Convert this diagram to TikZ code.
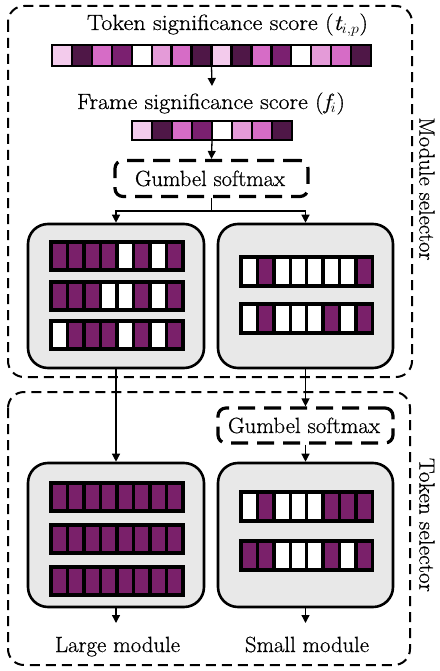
\documentclass[tikz,border=0pt]{standalone}
\usepackage{fontspec}
\usepackage{graphicx}
\usetikzlibrary{arrows.meta}
\newfontfamily\lblfont{Latin Modern Roman}[FakeBold=0.7, ItalicFeatures={FakeBold=0.7}]
\newcommand\fitw[2]{\resizebox{#1}{\height}{#2}}
\definecolor{tL}{HTML}{F3CBEC}
\definecolor{tD}{HTML}{4F1747}
\definecolor{tO}{HTML}{D66CC6}
\definecolor{tP}{HTML}{7B2070}
\definecolor{tM}{HTML}{E49BD8}
\definecolor{pp}{HTML}{7A206A}
\definecolor{panelgray}{HTML}{E8E8E8}
\newcommand\cellrow[6]{% x0,y0,cellw,h,linewidth,colors
  \foreach \c [count=\i from 0] in {#6} {
    \draw[line width=#5, fill=\c] ({#1+\i*#3},#2) rectangle ++(#3,#4);
  }}
\begin{document}
\begin{tikzpicture}[x=1pt,y=-1pt,
  lbl/.style={font=\lblfont\fontsize{22}{26}\selectfont, inner sep=0pt, anchor=base},
  outerbox/.style={draw, line width=2pt, dash pattern=on 10pt off 6pt, rounded corners=16pt},
  gumbel/.style={draw, line width=3.2pt, dash pattern=on 17pt off 9pt, rounded corners=8pt, minimum height=36pt, inner sep=0pt},
  panel/.style={draw, line width=2.6pt, fill=panelgray, rounded corners=20pt, minimum width=176pt, minimum height=144pt, inner sep=0pt},
  barbox/.style={inner sep=0pt, outer sep=0pt},
  arr/.style={line width=1.3pt, -{Triangle[length=8pt,width=8pt]}}]
\useasboundingbox (0,0) rectangle (439,671);

% outer dashed boxes
\draw[outerbox] (8,6) rectangle (412,377);
\draw[outerbox] (8,392) rectangle (410,665);
\node[lbl, rotate=-90, anchor=center] (msel) at (427,189) {\fitw{143pt}{Module selector}};
\node[lbl, rotate=-90, anchor=center] (tsel) at (427,525) {\fitw{134pt}{Token selector}};

% token significance
\node[lbl] (toktxt) at (227.5,30) {\fitw{281pt}{Token significance score ({\itshape t}$_{i,p}$)}};
\node[barbox, minimum width=319pt, minimum height=21pt] (tokbar) at (211.5,55.5) {};
\cellrow{52}{45}{19.94}{21}{2.4pt}{tL,tD,tO,tP,white,tM,tO,tD,tL,tD,tO,tP,white,tM,tO,tD}
\coordinate (ftop) at (212,86);
\draw[arr] (tokbar.south) -- (ftop);

\node[lbl] (frmtxt) at (211,109) {\fitw{268pt}{Frame significance score ({\itshape f}$_i$)}};
\node[barbox, minimum width=160pt, minimum height=19pt] (frmbar) at (212,130.5) {};
\cellrow{132}{121}{20}{19}{2.4pt}{tL,tD,tO,tP,white,tM,tO,tD}

% gumbel 1
\node[gumbel, minimum width=193pt] (g1) at (211.5,178.5) {};
\node[lbl] (g1t) at (210,186) {\fitw{150pt}{Gumbel softmax}};
\draw[arr] (frmbar.south) -- (g1.north);

% module selector panels
\node[panel] (lp1) at (116,296) {};
\node[panel, minimum width=175pt] (rp1) at (305.5,296) {};
\draw[arr] (g1.south) -- ++(0,13) -| (lp1.north);
\draw[arr] (g1.south) -- ++(0,13) -| (rp1.north);

\cellrow{51}{242}{16.5}{28}{3.4pt}{pp,pp,pp,pp,white,pp,white,pp}
\cellrow{51}{282}{16.5}{28}{3.4pt}{pp,pp,pp,white,white,pp,white,pp}
\cellrow{51}{321}{16.5}{28}{3.4pt}{white,pp,pp,pp,white,pp,white,pp}
\cellrow{241}{257}{16.4}{29}{3.4pt}{white,pp,white,white,white,white,white,pp}
\cellrow{241}{304}{16.4}{29}{3.4pt}{white,pp,white,white,white,pp,white,pp}

% token selector
\node[gumbel, minimum width=175pt, minimum height=35pt] (g2) at (305.5,425.5) {};
\node[lbl] (g2t) at (304,433) {\fitw{152pt}{Gumbel softmax}};
\node[panel] (lp2) at (116,535) {};
\node[panel, minimum width=175pt] (rp2) at (305.5,535) {};
\draw[arr] (lp1.south) -- (lp2.north);
\draw[arr] (rp1.south) -- (g2.north);
\draw[arr] (g2.south) -- (rp2.north);

\cellrow{51}{483}{16.5}{28}{3.4pt}{pp,pp,pp,pp,pp,pp,pp,pp}
\cellrow{51}{525}{16.5}{28}{3.4pt}{pp,pp,pp,pp,pp,pp,pp,pp}
\cellrow{51}{567}{16.5}{28}{3.4pt}{pp,pp,pp,pp,pp,pp,pp,pp}
\cellrow{241}{492}{16.4}{29}{3.4pt}{white,pp,white,white,white,pp,pp,pp}
\cellrow{241}{541}{16.4}{29}{3.4pt}{pp,pp,white,white,white,pp,white,pp}

\coordinate (lout) at (116,623);
\coordinate (rout) at (305.5,623);
\draw[arr] (lp2.south) -- (lout);
\draw[arr] (rp2.south) -- (rout);
\node[lbl] (large) at (117.5,652) {\fitw{125pt}{Large module}};
\node[lbl] (small) at (307,652) {\fitw{124pt}{Small module}};
\end{tikzpicture}
\end{document}
